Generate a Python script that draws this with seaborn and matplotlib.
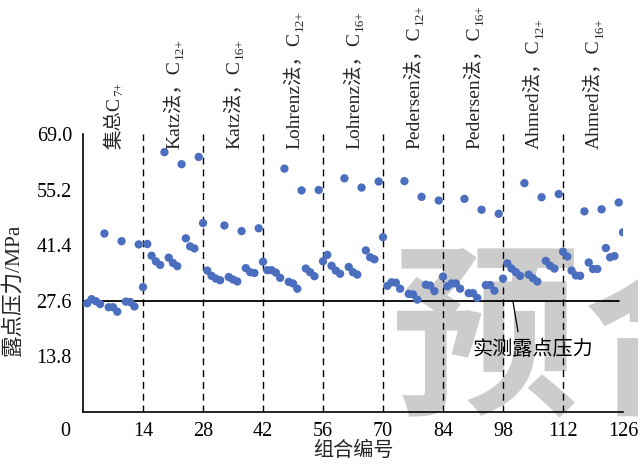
import numpy as np
import pandas as pd
import matplotlib
matplotlib.use("Agg")
import matplotlib.pyplot as plt
import seaborn as sns
from matplotlib.textpath import TextPath
from matplotlib.font_manager import FontProperties
from matplotlib.patches import PathPatch
from matplotlib.transforms import Affine2D, IdentityTransform, ScaledTranslation

# ---------------- data ----------------
combo_ids = list(range(1, 127))
dew_pressure = [
    27.0, 28.0, 27.5, 26.8, 44.3, 26.0, 26.0, 24.9, 42.4, 27.4, 27.3, 26.2, 41.6, 31.0,
    41.7, 38.8, 37.4, 36.5, 64.5, 38.3, 37.0, 36.2, 61.5, 43.1, 41.1, 40.6, 63.3, 46.9,
    35.1, 33.8, 33.1, 32.7, 46.3, 33.5, 32.9, 32.4, 44.9, 35.7, 34.7, 34.5, 45.6, 37.3,
    35.2, 35.2, 34.6, 33.3, 60.4, 32.3, 31.9, 30.6, 55.0, 35.6, 34.7, 33.7, 55.1, 37.4,
    39.0, 36.3, 35.1, 34.3, 58.0, 36.0, 34.7, 34.1, 55.7, 40.1, 38.4, 37.9, 57.2, 43.4,
    31.3, 32.2, 32.1, 30.6, 57.3, 29.3, 29.2, 27.9, 53.4, 31.6, 31.4, 30.0, 52.5, 33.6,
    31.2, 31.9, 31.9, 30.6, 52.9, 29.5, 29.5, 28.3, 50.2, 31.5, 31.5, 30.1, 49.2, 33.1,
    36.9, 35.6, 34.7, 33.8, 56.8, 34.1, 33.2, 32.4, 53.3, 37.5, 36.3, 35.6, 54.1, 39.8,
    38.6, 35.1, 33.9, 33.8, 49.8, 37.1, 35.5, 35.5, 50.3, 40.7, 38.4, 38.7, 52.0, 44.6,
]
measured_dew = 27.6
segment_bounds = [14, 28, 42, 56, 70, 84, 98, 112]
segment_centers = [7, 21, 35, 49, 63, 77, 91, 105, 119]
segment_main = ["集总C", "Katz法，C", "Katz法，C", "Lohrenz法，C", "Lohrenz法，C",
                "Pedersen法，C", "Pedersen法，C", "Ahmed法，C", "Ahmed法，C"]
segment_sub = ["7+", "12+", "16+", "12+", "16+", "12+", "16+", "12+", "16+"]
x_ticks = [0, 14, 28, 42, 56, 70, 84, 98, 112, 126]
y_ticks = [13.8, 27.6, 41.4, 55.2, 69.0]
y_tick_labels = ["13.8", "27.6", "41.4", "55.2", "69.0"]
annot_text = "实测露点压力"
annot_xy = (100.3, 27.6)
annot_end = (101.5, 19.9)
annot_text_pos = (105, 15.4)
x_title = "组合编号"
y_title = "露点压力/MPa"

df = pd.DataFrame({"id": combo_ids, "p": dew_pressure})

# ---------------- style ----------------
sns.set_style("white")
plt.rcParams["font.family"] = ["Liberation Serif", "Noto Sans CJK SC"]
plt.rcParams["axes.unicode_minus"] = False

W, H = 638, 466
fig = plt.figure(figsize=(W / 100, H / 100), dpi=100)
ax = fig.add_axes([83 / W, (H - 412) / H, (623 - 83) / W, (412 - 134) / H])
ax.patch.set_alpha(0)

# watermark (behind everything)
fp = FontProperties(family="Noto Sans CJK SC", weight="bold")
def watermark(ch, left, top, scale):
    p = TextPath((0, 0), ch, size=1, prop=fp)
    e = p.get_extents()
    tr = Affine2D().translate(-e.x0, -e.y1).scale(scale).translate(left, H - top)
    patch = PathPatch(tr.transform_path(p), transform=IdentityTransform(),
                      fc="#cccccc", ec="none", zorder=-5)
    fig.add_artist(patch)
p0 = TextPath((0, 0), "预", size=1, prop=fp).get_extents()
sc = 178 / p0.width
watermark("预", 397, 248, sc)
watermark("合", 588, 240, sc)

# segment separators
for b in segment_bounds:
    ax.plot([b, b], [0, 69], color="black", lw=1.0, ls=(0, (5, 3.5)), zorder=1)

# measured dew point line
ax.plot([0, 125], [measured_dew, measured_dew], color="black", lw=1.3, zorder=2)

sns.scatterplot(data=df, x="id", y="p", ax=ax, color="#4C6EBF", s=36,
                edgecolor="none", zorder=3, legend=False)

# annotation
ax.plot([annot_xy[0], annot_end[0]], [annot_xy[1], annot_end[1]], color="black",
        lw=0.9, zorder=2)
ax.text(annot_text_pos[0], annot_text_pos[1], annot_text, ha="center", va="center",
        fontsize=14.5, color="black")

# top labels
for xc, m, sub in zip(segment_centers, segment_main, segment_sub):
    t = ax.text(xc + 0.3, 65.4, m, rotation=90, ha="center", va="bottom", fontsize=14,
                clip_on=False)
    ax.annotate(sub, xy=(1.0, 1.0), xycoords=t, xytext=(1.5, 0.5),
                textcoords="offset points", rotation=90, ha="right", va="bottom",
                fontsize=9.5, annotation_clip=False)

ax.set_xlim(0, 126)
ax.set_ylim(0, 69)
ax.set_xticks(x_ticks)
ax.set_xticklabels([str(t) for t in x_ticks])
ax.set_yticks(y_ticks)
ax.set_yticklabels(y_tick_labels)
ax.tick_params(axis="both", direction="in", length=4, width=1, labelsize=14.5,
               color="black", labelcolor="black")
ax.tick_params(axis="x", pad=7)
ax.tick_params(axis="y", pad=8)
for s in ["top", "right"]:
    ax.spines[s].set_visible(False)
for s in ["left", "bottom"]:
    ax.spines[s].set_color("black")
    ax.spines[s].set_linewidth(1.2)
ax.set_xlabel(x_title, fontsize=14.5, labelpad=1)
ax.set_ylabel(y_title, fontsize=15.5)
ax.yaxis.set_label_coords(-0.11, 0.44)

# the "0" label of the reference sits left of the axis origin
lbl0 = ax.get_xticklabels()[0]
lbl0.set_transform(lbl0.get_transform() + ScaledTranslation(-13 / 72, 0, fig.dpi_scale_trans))

fig.savefig("out.png", dpi=100)
